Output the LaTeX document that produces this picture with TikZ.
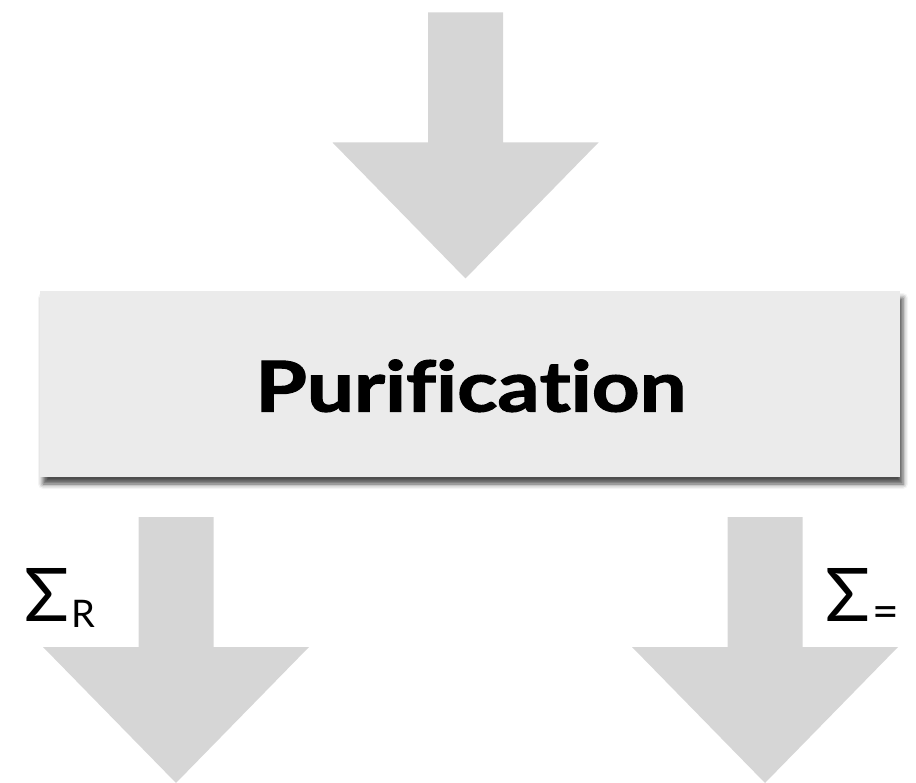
\documentclass[tikz,border=0pt]{standalone}
\usepackage{fontspec}
\setmainfont{Lato}[Ligatures=NoCommon]
\newfontfamily\heavyfont{Lato}[Ligatures=NoCommon, FakeBold=1.6]
\usetikzlibrary{shadows.blur}
\definecolor{arrowgray}{HTML}{D6D6D6}
\definecolor{boxgray}{HTML}{EBEBEB}
\tikzset{
  blockarrow/.pic={
    \fill[arrowgray] (-37.5,0) -- (37.5,0) -- (37.5,130) -- (133,130)
      -- (0,266) -- (-133,130) -- (-37.5,130) -- cycle;
  },
  procbox/.style={fill=boxgray, draw=none, minimum width=860pt, minimum height=186pt,
    inner sep=0pt, blur shadow={shadow xshift=3pt, shadow yshift=-7pt,
    shadow blur radius=5pt, shadow opacity=70}},
  boxtext/.style={font=\heavyfont\bfseries\fontsize{70}{70}\selectfont, inner sep=0pt, anchor=base},
  siglabel/.style={inner sep=0pt, anchor=base west},
}
\newcommand{\bigsig}{{\fontsize{74}{74}\selectfont Σ}}
\begin{document}
\begin{tikzpicture}[x=1pt,y=-1pt]
  \useasboundingbox (0,0) rectangle (916,783);
  \pic (topArrow) at (465.5,12.5) {blockarrow};
  \node[procbox] (box) at (470,384) {};
  \node[boxtext] (boxlabel) at (471,411.5) {\scalebox{1.19}[1]{P\kern0ptu\kern0ptr\kern0pti\kern0ptf\kern0pti\kern0ptc\kern0pta\kern0ptt\kern0pti\kern0pto\kern0ptn}};
  \pic (leftArrow) at (176,517) {blockarrow};
  \pic (rightArrow) at (765,517) {blockarrow};
  \node[siglabel] (sigR) at (24,621) {\bigsig\kern2pt\raisebox{-6pt}{\fontsize{38}{38}\selectfont R}};
  \node[siglabel] (sigEq) at (825.5,621) {\bigsig\kern2pt\raisebox{-6pt}{\fontsize{46}{46}\selectfont =}};
\end{tikzpicture}
\end{document}
